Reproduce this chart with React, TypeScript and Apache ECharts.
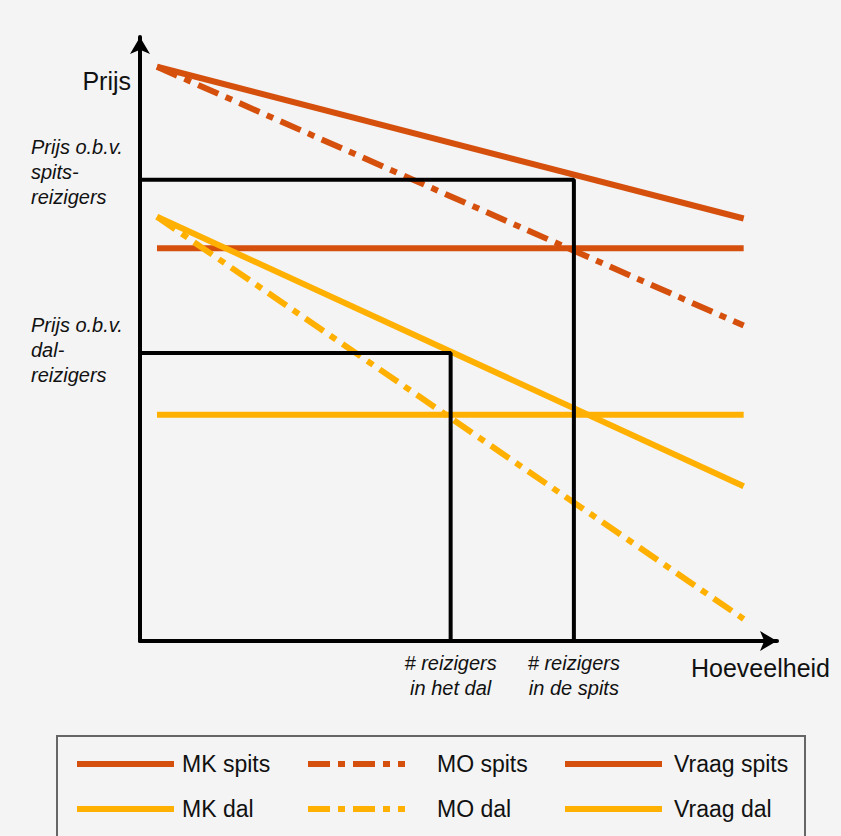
import React, { useEffect, useRef } from "react";
import * as echarts from "echarts";

// Quantity range over which the curves are drawn
const xRange = [2.7, 96];
// Curves (price at start, price at end)
const vraagSpits = [96.5, 71];
const moSpits = [96.5, 53];
const mkSpits = [66, 66];
const vraagDal = [71.3, 26];
const moDal = [71.3, 3.7];
const mkDal = [38, 38];
// Equilibria
const qSpits = 69;
const qDal = 49.4;
const pSpits = 77.5;
const pDal = 48.4;
// Axis extents (arrow tips)
const xMax = 101.3;
const yMax = 101.5;

const legendCols = [
  ["MK spits", "MK dal"],
  ["MO spits", "MO dal"],
  ["Vraag spits", "Vraag dal"],
];

const SPITS = "#D6500D";
const DAL = "#FFB000";
const FONT = "'Liberation Sans', Arial, sans-serif";
const DASHDOT = [22, 8, 7, 8];

const seg = (ys: number[]) => [
  [xRange[0], ys[0]],
  [xRange[1], ys[1]],
];

export default function App() {
  const ref = useRef<HTMLDivElement>(null);
  useEffect(() => {
    if (!ref.current) return;
    const chart = echarts.init(ref.current, null, { renderer: "svg" });
    const curve = (name: string, ys: number[], color: string, dashed: boolean) => ({
      name,
      type: "line",
      data: seg(ys),
      symbol: "none",
      z: 2,
      itemStyle: { color },
      lineStyle: { color, width: 6, type: dashed ? DASHDOT : "solid", cap: "butt" },
    });
    const box = (name: string, q: number, p: number) => ({
      name,
      type: "line",
      data: [
        [0, p],
        [q, p],
        [q, 0],
      ],
      symbol: "none",
      z: 3,
      itemStyle: { color: "#000" },
      lineStyle: { color: "#000", width: 4 },
    });
    const textPads = [3, 27, 7];
    const legendLefts = [69, 300, 557];
    chart.setOption({
      animation: false,
      backgroundColor: "#F4F4F4",
      textStyle: { fontFamily: FONT },
      grid: { left: 140, right: 64, top: 37, bottom: 195 },
      xAxis: {
        type: "value",
        min: 0,
        max: xMax,
        axisLine: {
          show: true,
          symbol: ["none", "arrow"],
          symbolSize: [15, 17],
          lineStyle: { color: "#000", width: 4 },
        },
        axisTick: { show: false },
        splitLine: { show: false },
        axisLabel: {
          customValues: [qDal, qSpits],
          formatter: (v: number) =>
            Math.abs(v - qDal) < 0.01 ? "# reizigers\nin het dal" : "# reizigers\nin de spits",
          fontStyle: "italic",
          fontSize: 20,
          lineHeight: 25,
          color: "#111",
          margin: 9,
          fontFamily: FONT,
        },
      },
      yAxis: {
        type: "value",
        min: 0,
        max: yMax,
        axisLine: {
          show: true,
          symbol: ["none", "arrow"],
          symbolSize: [15, 17],
          lineStyle: { color: "#000", width: 4 },
        },
        axisTick: { show: false },
        splitLine: { show: false },
        axisLabel: {
          customValues: [pDal, pSpits],
          formatter: (v: number) =>
            Math.abs(v - pSpits) < 0.01
              ? "Prijs o.b.v.\nspits-\nreizigers\n{s|}"
              : "Prijs o.b.v.\ndal-\nreizigers\n{d|}",
          fontStyle: "italic",
          fontSize: 20,
          lineHeight: 25,
          color: "#111",
          align: "left",
          margin: 109,
          fontFamily: FONT,
          rich: {
            s: { lineHeight: 16, fontSize: 1 },
            d: { lineHeight: 6, fontSize: 1 },
          },
        },
      },
      legend: legendCols.map((names, i) => ({
        orient: "vertical",
        left: legendLefts[i],
        top: 746,
        data: names,
        itemWidth: 97,
        itemHeight: 14,
        itemGap: 19,
        selectedMode: false,
        itemStyle: { opacity: 0 },
        lineStyle: { width: 6 },
        textStyle: {
          fontSize: 23,
          lineHeight: 26,
          color: "#111",
          fontFamily: FONT,
          padding: [0, 0, 0, textPads[i]],
        },
      })),
      graphic: [
        {
          type: "rect",
          z: -1,
          shape: { x: 57, y: 736, width: 748, height: 130 },
          style: { fill: "none", stroke: "#666", lineWidth: 2 },
        },
        {
          type: "text",
          x: 131,
          y: 81,
          style: {
            text: "Prijs",
            font: `25px ${FONT}`,
            fill: "#111",
            textAlign: "right",
            textVerticalAlign: "middle",
          },
        },
        {
          type: "text",
          x: 691,
          y: 668,
          style: {
            text: "Hoeveelheid",
            font: `25px ${FONT}`,
            fill: "#111",
            textAlign: "left",
            textVerticalAlign: "middle",
          },
        },
      ],
      series: [
        curve("MK spits", mkSpits, SPITS, false),
        curve("MO spits", moSpits, SPITS, true),
        curve("Vraag spits", vraagSpits, SPITS, false),
        curve("MK dal", mkDal, DAL, false),
        curve("MO dal", moDal, DAL, true),
        curve("Vraag dal", vraagDal, DAL, false),
        box("box spits", qSpits, pSpits),
        box("box dal", qDal, pDal),
      ],
    });
    return () => chart.dispose();
  }, []);
  return (
    <div
      ref={ref}
      style={{ position: "absolute", left: 0, top: 0, width: 841, height: 836 }}
    />
  );
}
